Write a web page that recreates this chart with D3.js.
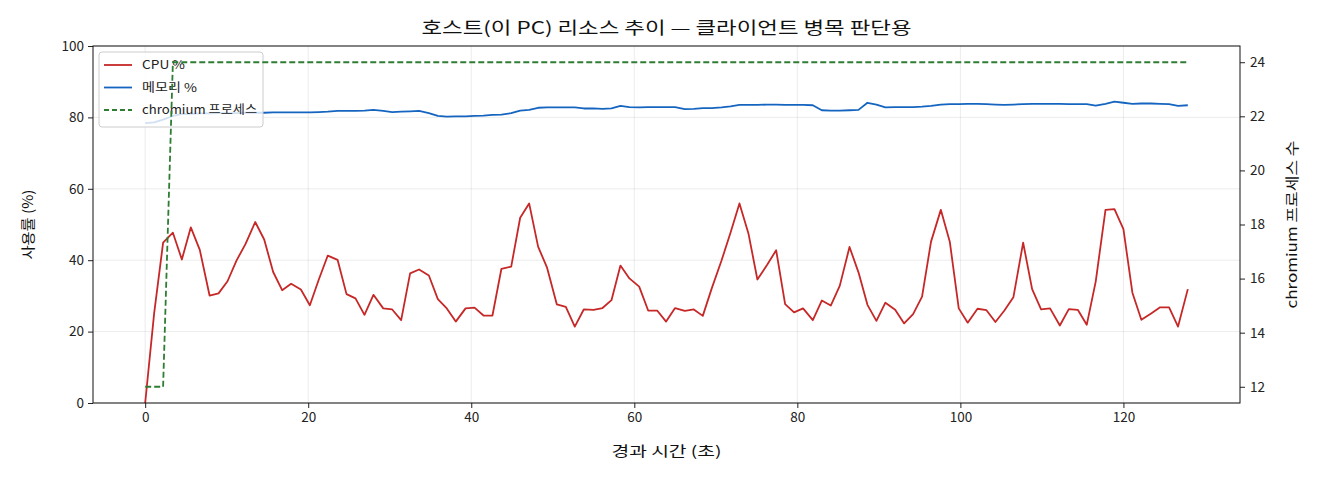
<!DOCTYPE html>
<html>
<head>
<meta charset="utf-8">
<script src="https://cdn.jsdelivr.net/npm/d3@7"></script>
<style>
  body { margin: 0; background: #fff; }
  svg { font-family: "Noto Sans CJK KR", "Noto Sans", sans-serif; }
</style>
</head>
<body>
<svg id="chart" width="1320" height="480"></svg>
<script>
// elapsed seconds of each sample
const elapsed = [0.0, 1.1, 2.2, 3.4, 4.5, 5.6, 6.7, 7.9, 9.0, 10.1, 11.2, 12.3, 13.5, 14.6, 15.7, 16.8, 17.9, 19.1, 20.2, 21.3,
  22.4, 23.6, 24.7, 25.8, 26.9, 28.0, 29.2, 30.3, 31.4, 32.5, 33.6, 34.8, 35.9, 37.0, 38.1, 39.3, 40.4, 41.5, 42.6, 43.7,
  44.9, 46.0, 47.1, 48.2, 49.3, 50.5, 51.6, 52.7, 53.8, 55.0, 56.1, 57.2, 58.3, 59.4, 60.6, 61.7, 62.8, 63.9, 65.0, 66.2,
  67.3, 68.4, 69.5, 70.7, 71.8, 72.9, 74.0, 75.1, 76.3, 77.4, 78.5, 79.6, 80.7, 81.9, 83.0, 84.1, 85.2, 86.4, 87.5, 88.6,
  89.7, 90.8, 92.0, 93.1, 94.2, 95.3, 96.4, 97.6, 98.7, 99.8, 100.9, 102.1, 103.2, 104.3, 105.4, 106.5, 107.7, 108.8, 109.9, 111.0,
  112.2, 113.3, 114.4, 115.5, 116.6, 117.8, 118.9, 120.0, 121.1, 122.2, 123.4, 124.5, 125.6, 126.7, 127.9];

const cpu = [0, 25.1, 44.9, 47.7, 40.2, 49.2, 42.9, 30.1, 30.7, 34.1, 39.9, 44.5, 50.7, 45.8, 36.7, 31.6, 33.4, 31.8, 27.4, 34.6,
  41.3, 40.1, 30.5, 29.3, 24.7, 30.3, 26.5, 26.2, 23.2, 36.3, 37.4, 35.7, 29.1, 26.5, 22.8, 26.5, 26.7, 24.5, 24.5, 37.6,
  38.2, 51.9, 55.9, 43.8, 37.9, 27.6, 26.9, 21.4, 26.2, 26.1, 26.6, 28.8, 38.5, 34.9, 32.6, 25.9, 25.9, 22.8, 26.6, 25.8,
  26.2, 24.4, 32.1, 39.9, 47.7, 55.9, 47.5, 34.6, 38.7, 42.8, 27.7, 25.4, 26.5, 23.2, 28.7, 27.3, 32.8, 43.7, 36.6, 27.5,
  23.0, 28.1, 26.1, 22.3, 24.9, 29.8, 45.2, 54.1, 45.2, 26.5, 22.5, 26.4, 26.0, 22.7, 25.9, 29.6, 44.9, 31.9, 26.2, 26.5,
  21.7, 26.3, 26.1, 21.9, 34.0, 54.1, 54.3, 48.7, 30.9, 23.3, 25.1, 26.8, 26.8, 21.4, 31.9];

const memory = [78.4, 78.6, 79.4, 80.4, 80.9, 81.0, 81.1, 81.1, 81.2, 81.2, 81.2, 81.3, 81.3, 81.3, 81.4, 81.4, 81.4, 81.4, 81.4, 81.5,
  81.6, 81.8, 81.8, 81.8, 81.9, 82.1, 81.8, 81.5, 81.6, 81.7, 81.8, 81.2, 80.4, 80.2, 80.3, 80.3, 80.4, 80.5, 80.7, 80.8,
  81.2, 81.9, 82.1, 82.7, 82.8, 82.8, 82.8, 82.8, 82.5, 82.5, 82.4, 82.5, 83.2, 82.9, 82.8, 82.9, 82.9, 82.9, 82.9, 82.3,
  82.4, 82.6, 82.6, 82.8, 83.1, 83.5, 83.5, 83.5, 83.6, 83.6, 83.5, 83.5, 83.5, 83.4, 82.0, 81.9, 81.9, 82.0, 82.1, 84.1,
  83.6, 82.8, 82.9, 82.9, 82.9, 83.0, 83.2, 83.6, 83.7, 83.7, 83.8, 83.8, 83.7, 83.6, 83.5, 83.6, 83.7, 83.8, 83.8, 83.8,
  83.8, 83.7, 83.7, 83.7, 83.3, 83.8, 84.4, 84.1, 83.8, 83.9, 83.9, 83.8, 83.7, 83.2, 83.4];

const chromium = [12, 12, 12, 24, 24, 24, 24, 24, 24, 24, 24, 24, 24, 24, 24, 24, 24, 24, 24, 24,
  24, 24, 24, 24, 24, 24, 24, 24, 24, 24, 24, 24, 24, 24, 24, 24, 24, 24, 24, 24,
  24, 24, 24, 24, 24, 24, 24, 24, 24, 24, 24, 24, 24, 24, 24, 24, 24, 24, 24, 24,
  24, 24, 24, 24, 24, 24, 24, 24, 24, 24, 24, 24, 24, 24, 24, 24, 24, 24, 24, 24,
  24, 24, 24, 24, 24, 24, 24, 24, 24, 24, 24, 24, 24, 24, 24, 24, 24, 24, 24, 24,
  24, 24, 24, 24, 24, 24, 24, 24, 24, 24, 24, 24, 24, 24, 24];

const xTicks = [0, 20, 40, 60, 80, 100, 120];
const yTicks = [0, 20, 40, 60, 80, 100];
const y2Ticks = [12, 14, 16, 18, 20, 22, 24];

const title = "호스트(이 PC) 리소스 추이 — 클라이언트 병목 판단용";

const margin = { top: 46, right: 80, bottom: 77, left: 93 };
const W = 1320, H = 480;
const iw = W - margin.left - margin.right;
const ih = H - margin.top - margin.bottom;

const svg = d3.select("#chart");
const g = svg.append("g").attr("transform", `translate(${margin.left},${margin.top})`);

const x = d3.scaleLinear().domain([-6.4, 134.3]).range([0, iw]);
const y = d3.scaleLinear().domain([0, 100]).range([ih, 0]);
const y2 = d3.scaleLinear().domain([11.4, 24.6]).range([ih, 0]);

// grid
g.append("g").selectAll("line").data(xTicks).enter().append("line")
  .attr("x1", d => x(d)).attr("x2", d => x(d)).attr("y1", 0).attr("y2", ih)
  .attr("stroke", "#b0b0b0").attr("stroke-opacity", 0.3).attr("stroke-width", 0.8);
g.append("g").selectAll("line").data(yTicks).enter().append("line")
  .attr("x1", 0).attr("x2", iw).attr("y1", d => y(d)).attr("y2", d => y(d))
  .attr("stroke", "#b0b0b0").attr("stroke-opacity", 0.3).attr("stroke-width", 0.8);

const line1 = vals => d3.line().x((d, i) => x(elapsed[i])).y(d => y(d))(vals);

g.append("path").attr("d", line1(cpu))
  .attr("fill", "none").attr("stroke", "#c62828").attr("stroke-width", 1.8).attr("stroke-linejoin", "round");
g.append("path").attr("d", line1(memory))
  .attr("fill", "none").attr("stroke", "#1565c0").attr("stroke-width", 1.8).attr("stroke-linejoin", "round");

// legend
const leg = g.append("g").attr("transform", "translate(6,6)");
leg.append("rect").attr("width", 164).attr("height", 75).attr("rx", 3)
  .attr("fill", "#fff").attr("fill-opacity", 0.8).attr("stroke", "#cccccc").attr("stroke-width", 1);
const legItems = [
  { label: "CPU %", color: "#c62828", dash: null, len: 43 },
  { label: "메모리 %", color: "#1565c0", dash: null, len: 55 },
  { label: "chromium 프로세스", color: "#2e7d32", dash: "5,3", len: 115 }
];
legItems.forEach((it, i) => {
  const yy = 13 + i * 22.5;
  leg.append("line").attr("x1", 5).attr("x2", 33).attr("y1", yy).attr("y2", yy)
    .attr("stroke", it.color).attr("stroke-width", 1.8).attr("stroke-dasharray", it.dash);
  leg.append("text").attr("x", 43).attr("y", yy).attr("dy", "0.35em")
    .attr("font-size", 12).attr("fill", "#222")
    .attr("textLength", it.len).attr("lengthAdjust", "spacingAndGlyphs").text(it.label);
});

// second axis line, drawn on top of legend
g.append("path")
  .attr("d", d3.line().x((d, i) => x(elapsed[i])).y(d => y2(d))(chromium))
  .attr("fill", "none").attr("stroke", "#2e7d32").attr("stroke-width", 1.8)
  .attr("stroke-dasharray", "6,3");

// axes
const xAxis = g.append("g").attr("transform", `translate(0,${ih})`)
  .call(d3.axisBottom(x).tickValues(xTicks).tickSize(5).tickPadding(4));
const yAxis = g.append("g").call(d3.axisLeft(y).tickValues(yTicks).tickSize(5).tickPadding(4));
const y2Axis = g.append("g").attr("transform", `translate(${iw},0)`)
  .call(d3.axisRight(y2).tickValues(y2Ticks).tickSize(5).tickPadding(5));
[xAxis, yAxis, y2Axis].forEach(a => {
  a.select(".domain").remove();
  a.selectAll("text").attr("font-size", 13.5).attr("fill", "#222").attr("font-family", "Noto Sans CJK KR, sans-serif");
  a.selectAll("line").attr("stroke", "#222");
});

g.append("rect").attr("width", iw).attr("height", ih)
  .attr("fill", "none").attr("stroke", "#111").attr("stroke-width", 1);

// labels
svg.append("text").attr("x", margin.left + iw / 2).attr("y", 28).attr("text-anchor", "middle")
  .attr("dy", "0.35em").attr("font-size", 17).attr("fill", "#111")
  .attr("textLength", 490).attr("lengthAdjust", "spacingAndGlyphs").text(title);
svg.append("text").attr("x", margin.left + iw / 2).attr("y", 451).attr("text-anchor", "middle")
  .attr("dy", "0.35em").attr("font-size", 14).attr("fill", "#111")
  .attr("textLength", 110).attr("lengthAdjust", "spacingAndGlyphs").text("경과 시간 (초)");
svg.append("text").attr("transform", `translate(28,${margin.top + ih / 2}) rotate(-90)`)
  .attr("text-anchor", "middle").attr("dy", "0.35em").attr("font-size", 14).attr("fill", "#111")
  .attr("textLength", 70).attr("lengthAdjust", "spacingAndGlyphs").text("사용률 (%)");
svg.append("text").attr("transform", `translate(1292,${margin.top + ih / 2}) rotate(-90)`)
  .attr("text-anchor", "middle").attr("dy", "0.35em").attr("font-size", 14).attr("fill", "#111")
  .attr("textLength", 168).attr("lengthAdjust", "spacingAndGlyphs").text("chromium 프로세스 수");
</script>
</body>
</html>
